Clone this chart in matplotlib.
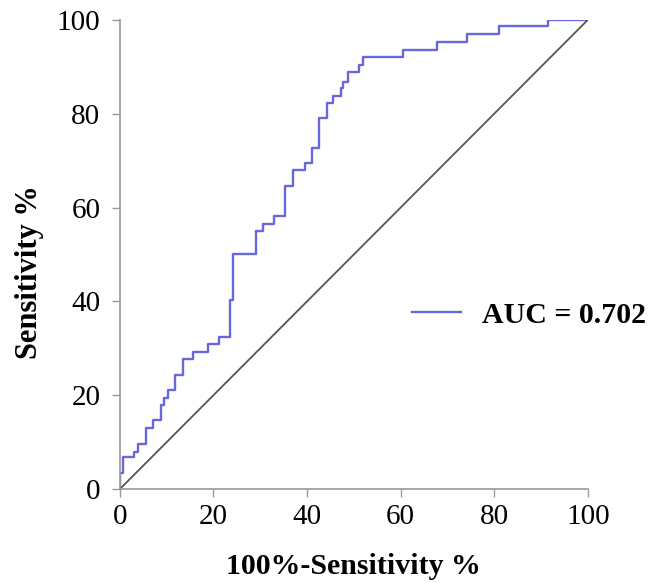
import matplotlib
matplotlib.use("Agg")
import matplotlib.pyplot as plt

# ROC curve corner points (100%-specificity, sensitivity)
fpr = [0, 0, 0.7, 3.0, 3.9, 5.6, 7.1, 8.7, 9.4, 10.3, 11.8, 13.4, 15.7, 18.9,
       21.2, 23.6, 24.1, 29.1, 30.6, 32.9, 35.4, 36.9, 39.5, 41.0, 42.5, 44.2,
       45.6, 47.2, 47.7, 48.8, 51.1, 52.0, 60.5, 67.7, 74.1, 81.0, 91.4, 100]
tpr = [0, 3.5, 6.8, 8.0, 9.7, 13.0, 14.7, 17.9, 19.5, 21.1, 24.3, 27.7, 29.3,
       30.9, 32.5, 40.4, 50.1, 55.0, 56.5, 58.2, 64.6, 67.9, 69.5, 72.6, 79.0,
       82.2, 83.8, 85.4, 86.8, 88.8, 90.4, 92.0, 93.6, 95.2, 96.9, 98.6, 100, 100]
ref_line = [0, 100]
ticks = [0, 20, 40, 60, 80, 100]
auc_label = "AUC = 0.702"

plt.rcParams['font.family'] = ['Liberation Serif', 'DejaVu Serif']

fig = plt.figure(figsize=(6.51, 5.83), dpi=100)
ax = fig.add_axes([0.184, 0.161, 0.719, 0.805])

ax.plot(fpr, tpr, drawstyle='steps-post', color='#6868dc', linewidth=1.7,
        label=auc_label)
ax.plot(ref_line, ref_line, color='#555555', linewidth=1.3)

ax.set_xlim(0, 100)
ax.set_ylim(0, 100)
ax.set_xticks(ticks)
ax.set_yticks(ticks)
ax.tick_params(axis='both', labelsize=21, colors='#999999', labelcolor='black',
               length=6, width=1, direction='out')
ax.tick_params(axis='y', pad=8)
ax.tick_params(axis='x', pad=5)
for side in ['top', 'right']:
    ax.spines[side].set_visible(False)
for side in ['left', 'bottom']:
    ax.spines[side].set_color('#999999')
    ax.spines[side].set_linewidth(1.2)

ax.set_xlabel("100%-Sensitivity %", fontsize=21.5, fontweight='bold', labelpad=16)
ax.set_ylabel("Sensitivity %", fontsize=22, fontweight='bold')
ax.yaxis.set_label_coords(-0.161, 0.463)

leg = ax.legend(frameon=False, loc='center left', bbox_to_anchor=(0.566, 0.371),
                handlelength=1.67, handletextpad=0.7,
                prop={'size': 21.5, 'weight': 'bold'})

fig.savefig("out.png", dpi=100)
